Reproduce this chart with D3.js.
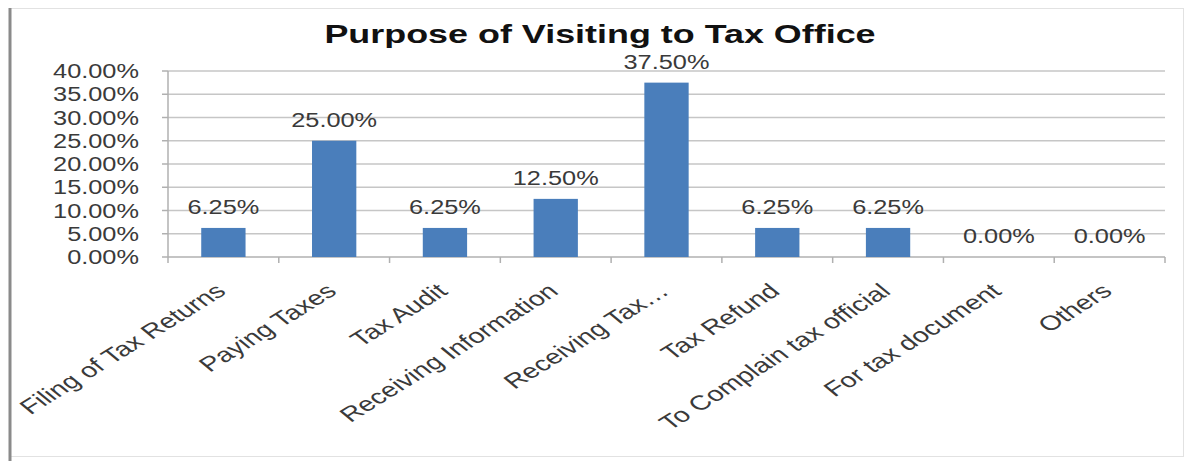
<!DOCTYPE html>
<html>
<head>
<meta charset="utf-8">
<script src="https://cdn.jsdelivr.net/npm/d3@7"></script>
<style>
  html, body { margin: 0; padding: 0; background: #fff; }
  svg { display: block; }
  text { font-family: "Liberation Sans", Arial, sans-serif; }
</style>
</head>
<body>
<div id="chart"></div>
<script>
// Survey results: why respondents visit the tax office
const categories = [
  "Filing of Tax Returns",
  "Paying Taxes",
  "Tax Audit",
  "Receiving Information",
  "Receiving Tax…",
  "Tax Refund",
  "To Complain tax official",
  "For tax document",
  "Others"
];
const shares = [0.0625, 0.25, 0.0625, 0.125, 0.375, 0.0625, 0.0625, 0, 0];
const yTicks = [0, 0.05, 0.10, 0.15, 0.20, 0.25, 0.30, 0.35, 0.40];
const titleText = "Purpose of Visiting to Tax Office";

const W = 1191, H = 461;
const plot = { left: 168, right: 1165, top: 71, bottom: 257 };
// lettering is drawn slightly wide: font size plus a horizontal stretch
const num = { fs: 19.5, sx: 1.3 };
const cat = { fs: 20.5, sx: 1.4, angle: -41 };
const ttl = { fs: 26.5, sx: 1.355 };
const pct = d3.format(".2%");

const svg = d3.select("#chart").append("svg")
  .attr("width", W).attr("height", H);

// chart frame
svg.append("rect")
  .attr("x", 10.5).attr("y", 8.5).attr("width", 1173).attr("height", 448)
  .attr("fill", "#fff").attr("stroke", "#e2e2e2").attr("stroke-width", 1);
svg.append("line")
  .attr("x1", 10).attr("x2", 10).attr("y1", 8).attr("y2", H)
  .attr("stroke", "#8a8a8a").attr("stroke-width", 3);

const x = d3.scaleBand()
  .domain(categories)
  .range([plot.left, plot.right])
  .paddingInner(0.6)
  .paddingOuter(0.3);

const y = d3.scaleLinear()
  .domain([0, 0.40])
  .range([plot.bottom, plot.top]);

// horizontal gridlines
svg.append("g")
  .selectAll("line")
  .data(yTicks.filter(d => d > 0))
  .join("line")
  .attr("x1", plot.left).attr("x2", plot.right)
  .attr("y1", d => y(d)).attr("y2", d => y(d))
  .attr("stroke", "#c6c6c6").attr("stroke-width", 1.6);

// value axis line and its tick marks
const yAxis = svg.append("g");
yAxis.append("line")
  .attr("x1", plot.left).attr("x2", plot.left)
  .attr("y1", plot.top).attr("y2", plot.bottom)
  .attr("stroke", "#b0b0b0").attr("stroke-width", 1.5);
yAxis.selectAll("line.tk")
  .data(yTicks)
  .join("line").attr("class", "tk")
  .attr("x1", plot.left - 6).attr("x2", plot.left)
  .attr("y1", d => y(d)).attr("y2", d => y(d))
  .attr("stroke", "#b0b0b0").attr("stroke-width", 1.5);
yAxis.selectAll("text")
  .data(yTicks)
  .join("text")
  .attr("transform", d => `translate(139,${y(d)}) scale(${num.sx},1)`)
  .attr("dy", "0.36em")
  .attr("text-anchor", "end")
  .attr("font-size", num.fs)
  .attr("fill", "#3a3a3a")
  .text(d => pct(d));

// category axis line and boundary ticks
const xAxis = svg.append("g");
xAxis.append("line")
  .attr("x1", plot.left).attr("x2", plot.right)
  .attr("y1", plot.bottom).attr("y2", plot.bottom)
  .attr("stroke", "#b0b0b0").attr("stroke-width", 1.5);
const bounds = d3.range(categories.length + 1).map(i => plot.left + i * x.step());
xAxis.selectAll("line.tk")
  .data(bounds)
  .join("line").attr("class", "tk")
  .attr("x1", d => d).attr("x2", d => d)
  .attr("y1", plot.bottom).attr("y2", plot.bottom + 6)
  .attr("stroke", "#b0b0b0").attr("stroke-width", 1.5);

// bars
svg.append("g")
  .selectAll("rect")
  .data(categories)
  .join("rect")
  .attr("x", d => x(d))
  .attr("width", x.bandwidth())
  .attr("y", (d, i) => y(shares[i]))
  .attr("height", (d, i) => plot.bottom - y(shares[i]))
  .attr("fill", "#4a7ebb");

// value labels above bars
svg.append("g")
  .selectAll("text")
  .data(categories)
  .join("text")
  .attr("transform", (d, i) =>
    `translate(${x(d) + x.bandwidth() / 2},${y(shares[i]) - 14}) scale(${num.sx},1)`)
  .attr("text-anchor", "middle")
  .attr("font-size", num.fs)
  .attr("fill", "#3a3a3a")
  .text((d, i) => pct(shares[i]));

// slanted category labels
svg.append("g")
  .selectAll("text")
  .data(categories)
  .join("text")
  .attr("transform", d =>
    `translate(${x(d) + x.bandwidth() / 2 + 4},${plot.bottom + 36}) scale(${cat.sx},1) rotate(${cat.angle})`)
  .attr("text-anchor", "end")
  .attr("font-size", cat.fs)
  .attr("fill", "#3a3a3a")
  .text(d => d);

// title
svg.append("text")
  .attr("transform", `translate(600,43) scale(${ttl.sx},1)`)
  .attr("text-anchor", "middle")
  .attr("font-size", ttl.fs)
  .attr("font-weight", "bold")
  .attr("fill", "#111")
  .text(titleText);
</script>
</body>
</html>
